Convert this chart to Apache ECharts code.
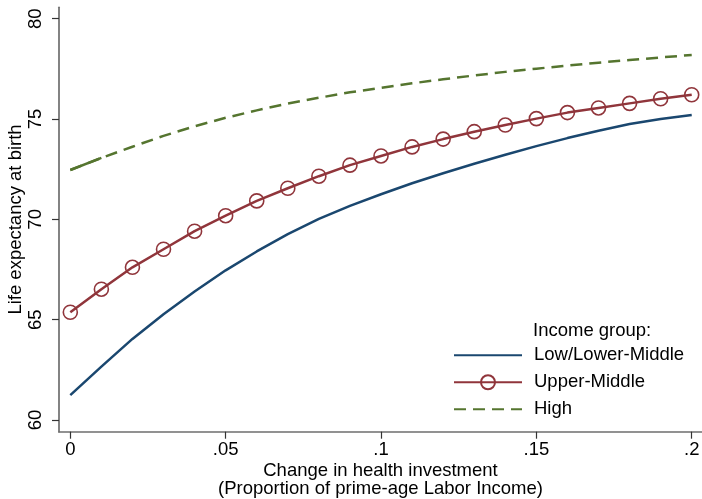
<!DOCTYPE html>
<html>
<head>
<meta charset="utf-8">
<script src="https://cdn.jsdelivr.net/npm/echarts@6/dist/echarts.min.js"></script>
<style>
  html, body { margin: 0; padding: 0; background: #fff; }
  #chart { width: 702px; height: 499px; }
</style>
</head>
<body>
<div id="chart"></div>
<script>
// Change in health investment (share of prime-age labor income)
const investment = [0, 0.01, 0.02, 0.03, 0.04, 0.05, 0.06, 0.07, 0.08, 0.09, 0.10,
                    0.11, 0.12, 0.13, 0.14, 0.15, 0.16, 0.17, 0.18, 0.19, 0.20];

// Life expectancy at birth by income group
const lowLowerMiddle = [61.24, 62.66, 64.04, 65.27, 66.40, 67.46, 68.40, 69.26, 70.02, 70.67, 71.25,
                        71.80, 72.30, 72.77, 73.22, 73.65, 74.05, 74.42, 74.75, 75.00, 75.20];
const upperMiddle = [65.37, 66.52, 67.61, 68.51, 69.41, 70.18, 70.92, 71.55, 72.15, 72.70, 73.16,
                     73.61, 74.00, 74.37, 74.70, 75.02, 75.32, 75.55, 75.78, 76.01, 76.21];
const high = [72.46, 73.06, 73.62, 74.16, 74.64, 75.06, 75.43, 75.77, 76.06, 76.33, 76.55,
              76.78, 76.98, 77.17, 77.35, 77.51, 77.66, 77.81, 77.94, 78.07, 78.19];

const groupNames = ['Low/Lower-Middle', 'Upper-Middle', 'High'];

// Axis ticks and their labels
const xTicks = [0, 0.05, 0.1, 0.15, 0.2];
const xTickLabels = ['0', '.05', '.1', '.15', '.2'];
const yTicks = [60, 65, 70, 75, 80];
const yTickLabels = ['60', '65', '70', '75', '80'];

const NAVY = '#1a476f';
const MAROON = '#90353b';
const FOREST = '#55752f';
const FONT = '"Liberation Sans", Arial, sans-serif';
const FS = 18.5;

const pairs = (ys) => investment.map((x, i) => [x, ys[i]]);

const chart = echarts.init(document.getElementById('chart'), null, { renderer: 'canvas' });

chart.setOption({
  backgroundColor: '#fff',
  animation: false,
  textStyle: { fontFamily: FONT, color: '#000' },
  grid: { left: 59, right: 0, top: 7.3, bottom: 67.3, containLabel: false, outerBoundsMode: 'none' },
  xAxis: {
    type: 'value',
    min: -0.00364,
    max: 0.20331,
    name: 'Change in health investment\n(Proportion of prime-age Labor Income)',
    nameLocation: 'middle',
    nameGap: 30,
    nameMoveOverlap: false,
    nameTextStyle: { fontSize: FS, lineHeight: 18, color: '#000', fontFamily: FONT },
    splitLine: { show: false },
    axisLine: { onZero: false, lineStyle: { color: '#6e6e6e', width: 1.7 } },
    axisTick: { customValues: xTicks, length: 7, lineStyle: { color: '#333', width: 1.2 } },
    axisLabel: {
      customValues: xTicks,
      margin: 9,
      fontSize: FS,
      color: '#000',
      fontFamily: FONT,
      formatter: (v) => {
        const i = xTicks.findIndex(t => Math.abs(t - v) < 1e-9);
        return i >= 0 ? xTickLabels[i] : '';
      }
    }
  },
  yAxis: {
    type: 'value',
    min: 59.417,
    max: 80.568,
    name: 'Life expectancy at birth',
    nameLocation: 'middle',
    nameGap: 34,
    nameMoveOverlap: false,
    nameTextStyle: { fontSize: FS, color: '#000', fontFamily: FONT },
    splitLine: { show: false },
    axisLine: { show: true, onZero: false, lineStyle: { color: '#6e6e6e', width: 1.7 } },
    axisTick: { show: true, customValues: yTicks, length: 7, lineStyle: { color: '#333', width: 1.2 } },
    axisLabel: {
      customValues: yTicks,
      rotate: 90,
      margin: 14,
      fontSize: FS,
      color: '#000',
      fontFamily: FONT,
      formatter: (v) => {
        const i = yTicks.findIndex(t => Math.abs(t - v) < 1e-9);
        return i >= 0 ? yTickLabels[i] : '';
      }
    }
  },
  legend: {
    orient: 'vertical',
    left: 453,
    top: 345.75,
    padding: 0,
    itemWidth: 68,
    itemHeight: 17.5,
    itemGap: 8,
    textStyle: { fontSize: FS, color: '#000', fontFamily: FONT, padding: [0, 0, 0, 7] },
    data: [
      { name: groupNames[0], itemStyle: { opacity: 0 } },
      { name: groupNames[1] },
      { name: groupNames[2], itemStyle: { opacity: 0 } }
    ]
  },
  graphic: [{
    type: 'text',
    left: 533,
    top: 321.5,
    style: { text: 'Income group:', fontSize: FS, fill: '#000', fontFamily: FONT }
  }],
  series: [
    {
      name: groupNames[0],
      type: 'line',
      data: pairs(lowLowerMiddle),
      symbol: 'none',
      lineStyle: { color: NAVY, width: 2.5 },
      itemStyle: { color: NAVY },
      z: 2
    },
    {
      name: groupNames[1],
      type: 'line',
      data: pairs(upperMiddle),
      symbol: 'circle',
      symbolSize: 14,
      showSymbol: true,
      lineStyle: { color: MAROON, width: 2.5 },
      itemStyle: { color: 'transparent', borderColor: MAROON, borderWidth: 1.6 },
      z: 3
    },
    {
      name: groupNames[2],
      type: 'line',
      data: pairs(high),
      symbol: 'none',
      lineStyle: { color: FOREST, width: 2.5, type: [12, 7] },
      itemStyle: { color: FOREST },
      z: 2
    },
    {
      // leading solid stretch of the high-income curve
      name: 'High (start)',
      type: 'line',
      data: pairs(high).slice(0, 2),
      symbol: 'none',
      lineStyle: { color: FOREST, width: 2.5 },
      itemStyle: { color: FOREST },
      silent: true,
      z: 2
    }
  ]
});
</script>
</body>
</html>
